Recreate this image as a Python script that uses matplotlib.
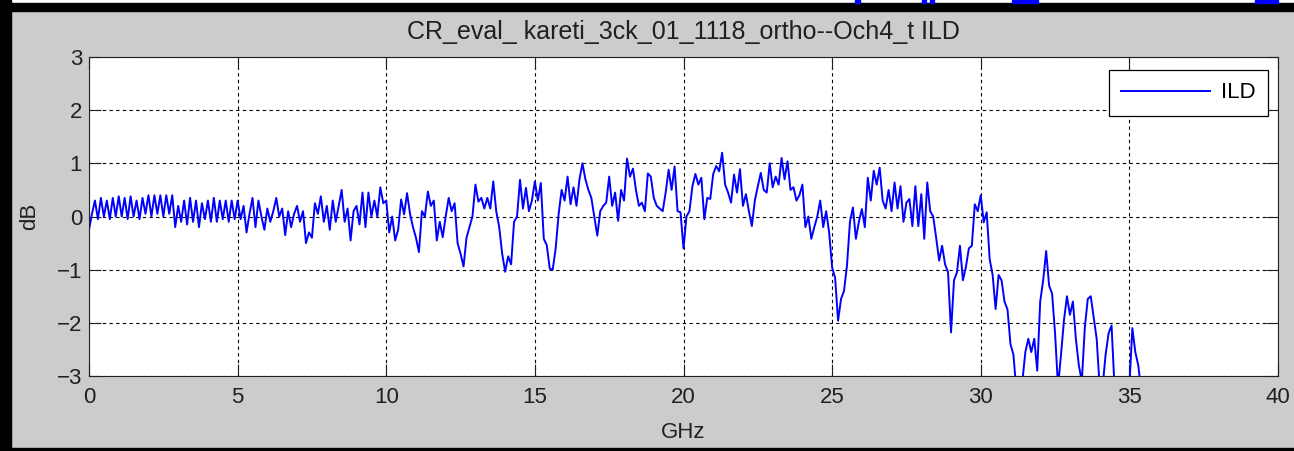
import numpy as np
import matplotlib
matplotlib.use("Agg")
import matplotlib.pyplot as plt
from matplotlib.patches import Rectangle

# ILD trace, 0.1 GHz steps from 0 GHz
freq_start = 0.0
freq_step = 0.1
ild_db = [
    # 0 - 1 GHz
    -0.25, 0.05, 0.30, -0.05, 0.35, 0.00, 0.30, -0.05, 0.35, 0.00,
    # 1 - 2
    0.38, 0.00, 0.35, -0.05, 0.38, 0.00, 0.30, -0.05, 0.35, 0.05,
    # 2 - 3
    0.40, 0.00, 0.40, 0.05, 0.40, 0.00, 0.40, 0.05, 0.40, -0.20,
    # 3 - 4
    0.20, -0.10, 0.30, -0.15, 0.35, -0.10, 0.30, -0.20, 0.25, -0.05,
    # 4 - 5
    0.30, -0.10, 0.35, -0.10, 0.30, -0.05, 0.30, -0.10, 0.30, -0.05,
    # 5 - 6
    0.30, -0.05, 0.20, -0.30, 0.05, 0.35, -0.20, 0.30, 0.00, -0.25,
    # 6 - 7
    0.15, -0.10, 0.10, 0.35, 0.00, 0.15, -0.35, 0.10, -0.20, 0.05,
    # 7 - 8
    0.20, -0.10, 0.10, -0.50, -0.30, -0.40, 0.25, 0.05, 0.38, -0.10,
    # 8 - 9
    0.20, -0.25, 0.30, -0.10, 0.20, 0.50, -0.10, 0.15, -0.45, 0.10,
    # 9 - 10
    0.20, -0.15, 0.45, -0.20, 0.45, 0.00, 0.30, 0.00, 0.55, 0.25,
    # 10 - 11
    0.30, -0.30, 0.00, -0.45, -0.25, 0.32, 0.04, 0.44, 0.05, -0.20,
    # 11 - 12
    -0.40, -0.67, 0.10, 0.00, 0.47, 0.20, 0.30, -0.45, -0.10, -0.39,
    # 12 - 13
    0.00, 0.35, 0.10, 0.25, -0.50, -0.70, -0.94, -0.40, -0.20, 0.00,
    # 13 - 14
    0.60, 0.28, 0.35, 0.15, 0.35, 0.15, 0.66, 0.10, -0.20, -0.70,
    # 14 - 15
    -1.04, -0.75, -0.90, -0.10, 0.00, 0.69, 0.15, 0.54, 0.10, 0.30,
    # 15 - 16
    0.66, 0.30, 0.63, -0.42, -0.54, -0.98, -1.00, -0.60, 0.05, 0.50,
    # 16 - 17
    0.30, 0.75, 0.23, 0.55, 0.20, 0.70, 1.00, 0.70, 0.50, 0.35,
    # 17 - 18
    0.00, -0.36, 0.10, 0.20, 0.26, 0.75, 0.20, 0.45, -0.08, 0.50,
    # 18 - 19
    0.30, 1.09, 0.75, 0.90, 0.50, 0.20, 0.26, 0.10, 0.81, 0.75,
    # 19 - 20
    0.35, 0.20, 0.15, 0.10, 0.45, 0.88, 0.50, 0.94, 0.10, 0.08,
    # 20 - 21
    -0.60, 0.00, 0.10, 0.57, 0.80, 0.60, 0.73, -0.05, 0.35, 0.33,
    # 21 - 22
    0.80, 0.95, 0.85, 1.20, 0.60, 0.45, 0.26, 0.79, 0.45, 0.89,
    # 22 - 23
    0.20, 0.42, 0.10, -0.18, 0.30, 0.57, 0.82, 0.50, 0.45, 1.00,
    # 23 - 24
    0.55, 0.75, 0.60, 1.10, 0.70, 1.04, 0.50, 0.55, 0.30, 0.40,
    # 24 - 25
    0.60, -0.20, 0.00, -0.42, -0.20, 0.00, 0.30, -0.20, 0.10, -0.30,
    # 25 - 26
    -0.96, -1.15, -1.96, -1.55, -1.40, -0.92, -0.10, 0.17, -0.42, -0.10,
    # 26 - 27
    0.14, -0.20, 0.73, 0.30, 0.86, 0.60, 0.92, 0.30, 0.15, 0.50,
    # 27 - 28
    0.10, 0.64, 0.15, 0.57, -0.10, 0.26, 0.33, -0.18, 0.57, -0.18,
    # 28 - 29
    0.42, -0.42, 0.64, 0.10, 0.00, -0.40, -0.83, -0.55, -0.90, -1.05,
    # 29 - 30
    -2.18, -1.20, -1.05, -0.55, -1.20, -0.95, -0.60, -0.55, 0.23, 0.10,
    # 30 - 31
    0.40, -0.11, 0.08, -0.80, -1.10, -1.74, -1.10, -1.20, -1.60, -1.75,
    # 31 - 32
    -2.40, -2.60, -3.30, -3.30, -3.10, -2.55, -2.30, -2.55, -2.30, -2.90,
    # 32 - 33
    -1.60, -1.20, -0.65, -1.30, -1.45, -2.20, -3.20, -2.60, -1.95, -1.50,
    # 33 - 34
    -1.85, -1.60, -2.30, -2.80, -3.10, -2.10, -1.55, -1.50, -1.90, -2.30,
    # 34 - 35
    -3.20, -3.20, -2.60, -2.20, -2.05, -3.20, -3.50, -3.50, -3.50, -3.50,
    # 35 - 35.4
    -3.20, -2.10, -2.55, -2.80, -3.30,
]

title_text = "CR_eval_ kareti_3ck_01_1118_ortho--Och4_t ILD"
x_ticks = [0, 5, 10, 15, 20, 25, 30, 35, 40]
y_ticks = [-3, -2, -1, 0, 1, 2, 3]

freq = freq_start + freq_step * np.arange(len(ild_db))

plt.rcParams['font.family'] = ['Liberation Sans', 'DejaVu Sans']

fig = plt.figure(figsize=(12.94, 4.51), dpi=100)
fig.patch.set_facecolor('#cccccc')

W, H = 1294.0, 451.0
ax = fig.add_axes([89 / W, 1 - 376 / H, (1278 - 89) / W, (376 - 57) / H])
ax.set_facecolor('white')

ax.plot(freq, ild_db, color='#0000ff', lw=1.4, label='ILD')

ax.set_xlim(0, 40)
ax.set_ylim(-3, 3)
ax.set_xticks(x_ticks)
ax.set_yticks(y_ticks)
ax.tick_params(direction='in', length=8.5, width=0.8, top=True, right=True,
               labelsize=16, colors='#202020')
ax.tick_params(axis='x', pad=8)
ax.tick_params(axis='y', pad=5)
ax.grid(True, color='black', linestyle=(0, (3, 3)), linewidth=0.8)
for s in ax.spines.values():
    s.set_linewidth(0.8)
    s.set_color('#202020')

ax.set_title(title_text, fontsize=18, color='#202020', pad=13)
ax.set_xlabel('GHz', fontsize=16, color='#202020', labelpad=10)
ax.set_ylabel('dB', fontsize=16, color='#202020', labelpad=12)

leg = ax.legend(loc='upper right', bbox_to_anchor=(0.9916, 0.959),
                borderaxespad=0, fancybox=False, framealpha=1,
                edgecolor='black', fontsize=16, handlelength=4.0,
                borderpad=0.55, handletextpad=0.5)
leg.get_frame().set_linewidth(0.9)

# window frame of the screenshot
def band(x0, y0, x1, y1, c):
    fig.patches.append(Rectangle((x0 / W, 1 - y1 / H), (x1 - x0) / W, (y1 - y0) / H,
                                 transform=fig.transFigure, color=c, zorder=10))

band(0, 0, W, 3, 'white')
band(0, 3, W, 11, 'black')
band(0, 0, 11, H, 'black')
band(0, 448, W, H, 'black')
for x0, x1 in [(855, 860), (922, 926), (930, 934), (1012, 1038), (1255, 1278)]:
    band(x0, 0, x1, 3, '#0000ff')

fig.savefig('out.png', dpi=100, facecolor=fig.get_facecolor())
